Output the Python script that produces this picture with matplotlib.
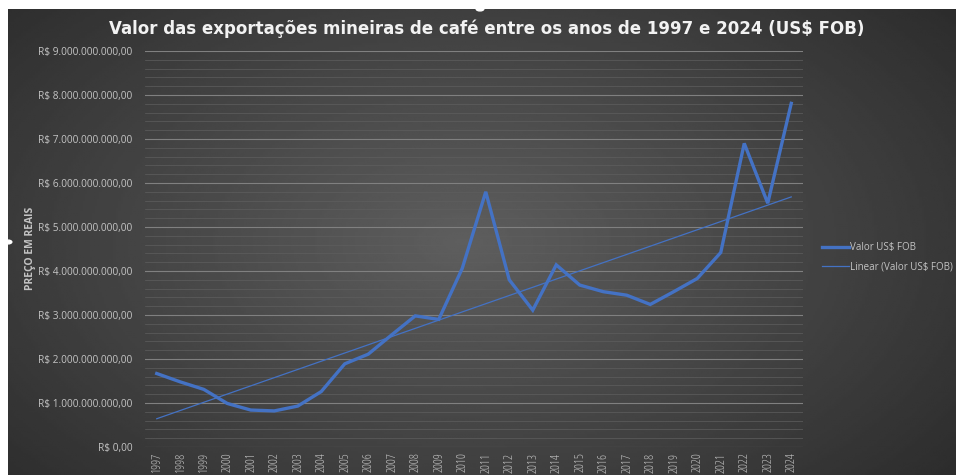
import numpy as np
import matplotlib.pyplot as plt
from matplotlib.ticker import FuncFormatter, MultipleLocator

# data
anos = [str(a) for a in range(1997, 2025)]
valor_fob = [1.67, 1.48, 1.31, 0.99, 0.84, 0.82, 0.93, 1.26, 1.89, 2.11,
             2.55, 2.98, 2.90, 4.06, 5.80, 3.80, 3.11, 4.14, 3.68, 3.53,
             3.45, 3.24, 3.53, 3.83, 4.42, 6.90, 5.54, 7.81]
valor_fob = [v * 1e9 for v in valor_fob]

titulo = "Valor das exportações mineiras de café entre os anos de 1997 e 2024 (US$ FOB)"
cor = "#4472c4"
txt = "#c4c4c4"

plt.rcParams['font.family'] = ['Open Sans', 'DejaVu Sans']

fig = plt.figure(figsize=(9.56, 4.75), dpi=100)
fig.patch.set_facecolor("white")

# dark gradient background of the chart area
bg = fig.add_axes([8 / 956, 0, 1 - 8 / 956, 1 - 9 / 475])
yy, xx = np.mgrid[0:1:200j, 0:1:400j]
d = np.sqrt(((xx - 0.48) / 0.75) ** 2 + ((yy - 0.5) / 0.9) ** 2)
bg.imshow(0.37 - 0.22 * d, cmap="gray", vmin=0, vmax=1, aspect="auto",
          extent=[0, 1, 0, 1], interpolation="bilinear")
bg.axis("off")

ax = fig.add_axes([145 / 956, 1 - 447 / 475, 658 / 956, 396 / 475])
ax.patch.set_alpha(0)
x = np.arange(len(anos))
ax.plot(x, valor_fob, color=cor, lw=2.4, label="Valor US$ FOB", solid_joinstyle="miter")
coef = np.polyfit(x, valor_fob, 1)
ax.plot(x, np.polyval(coef, x), color=cor, lw=0.9, label="Linear (Valor US$ FOB)")

ax.set_xlim(-0.5, len(anos) - 0.5)
ax.set_ylim(0, 9e9)
ax.set_xticks(x)
ax.set_xticklabels(anos, rotation=90, fontsize=9, color=txt, fontstretch="condensed")
ax.yaxis.set_major_locator(MultipleLocator(1e9))
ax.yaxis.set_minor_locator(MultipleLocator(2e8))
ax.yaxis.set_major_formatter(FuncFormatter(
    lambda v, p: "R$ " + f"{v:,.2f}".replace(",", "X").replace(".", ",").replace("X", ".")))
ax.tick_params(axis="y", labelsize=7.3, labelcolor=txt, length=0, pad=9)
ax.tick_params(axis="x", length=0, pad=4)
ax.tick_params(axis="y", which="minor", length=0)
ax.grid(axis="y", which="major", color="#808080", lw=0.8)
ax.grid(axis="y", which="minor", color="#5e5e5e", lw=0.5)
ax.set_axisbelow(True)
for s in ax.spines.values():
    s.set_visible(False)

fig.text(487 / 956, 1 - 29 / 475, titulo, ha="center", va="center",
         fontsize=12, fontweight="bold", color="#f2f2f2", family="DejaVu Sans")
fig.text(30 / 956, 1 - 248 / 475, "PREÇO EM REAIS", rotation=90, ha="center",
         va="center", fontsize=7.5, fontweight="bold", color=txt, fontstretch="condensed")

leg = ax.legend(loc="upper left", bbox_to_anchor=(822 / 956, 1 - 242 / 475),
                bbox_transform=fig.transFigure, frameon=False, fontsize=7,
                labelcolor=txt, handlelength=2.8, handletextpad=0.1,
                labelspacing=0.85, borderpad=0, borderaxespad=0)

# selection handles
fig.patches.append(plt.Circle((480 / 956, 1 - 9 / 475), 0.004, color="white",
                              transform=fig.transFigure, figure=fig))
fig.patches.append(plt.Circle((8 / 956, 1 - 242 / 475), 0.004, color="white",
                              transform=fig.transFigure, figure=fig))

fig.savefig("out.png", dpi=100)
